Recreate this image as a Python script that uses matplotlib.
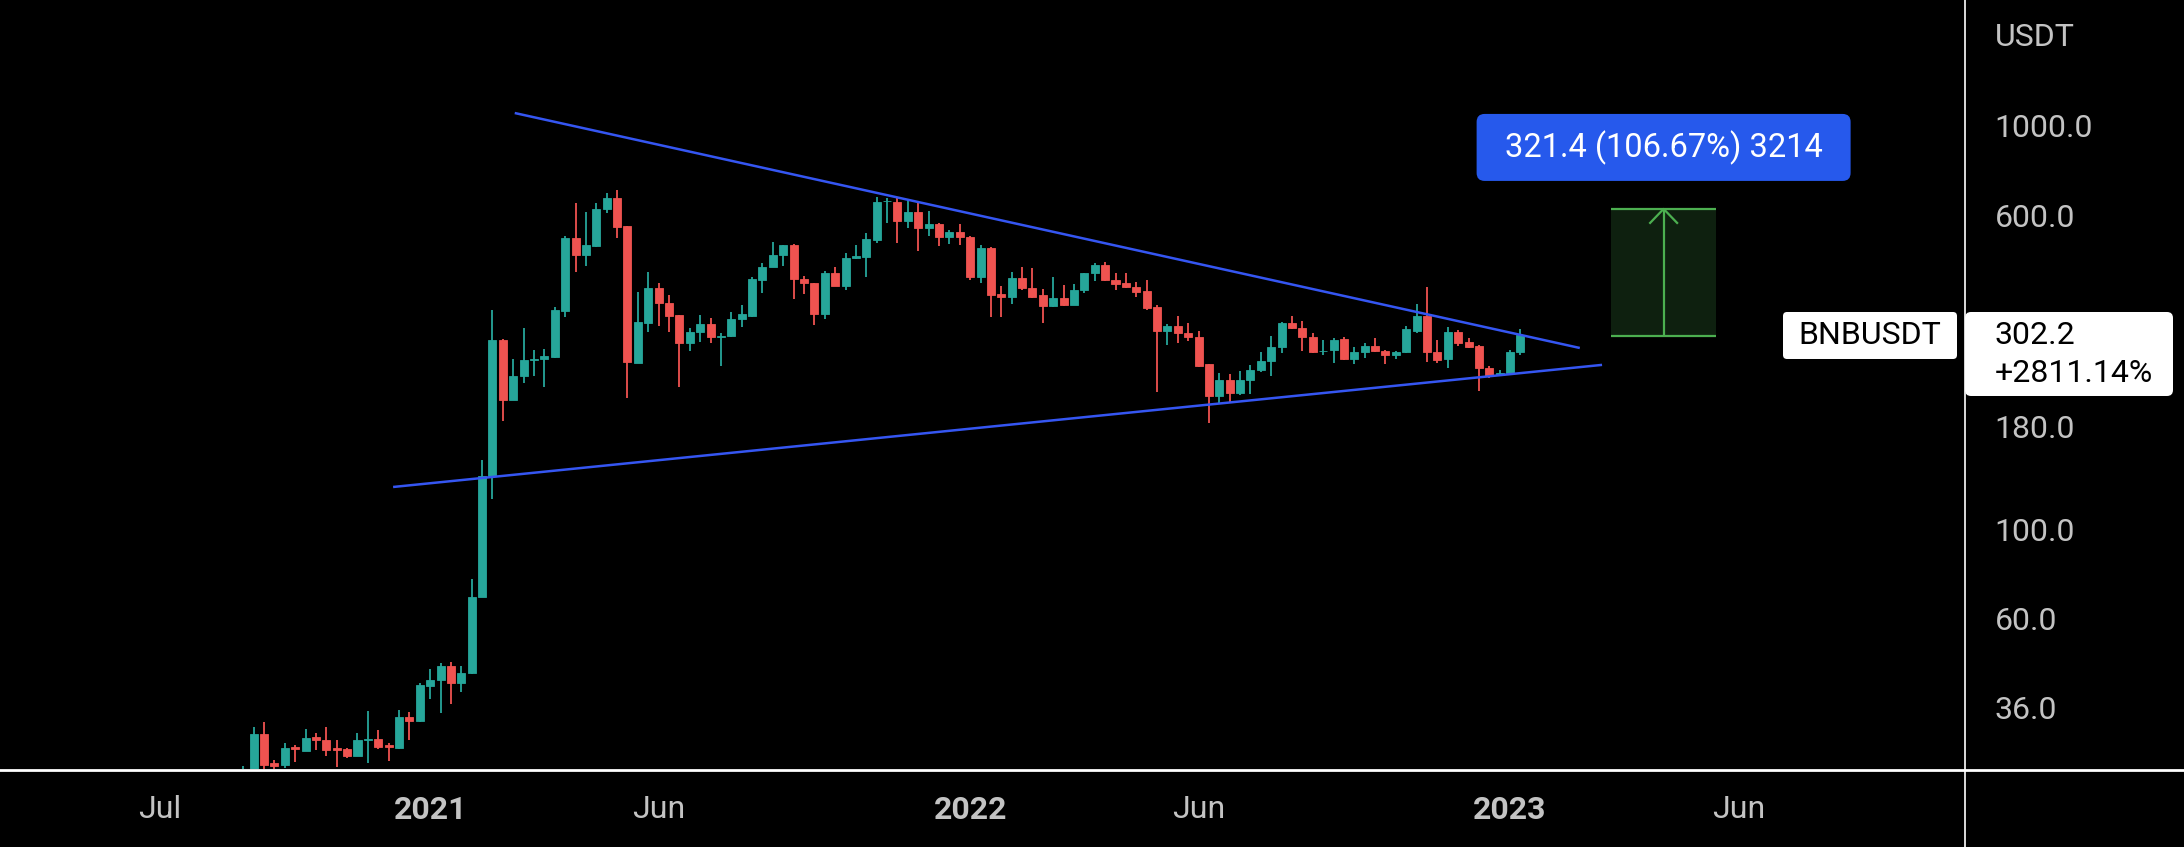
import matplotlib
matplotlib.use('Agg')
import matplotlib.pyplot as plt
import matplotlib.dates as mdates
from matplotlib.patches import Rectangle, FancyBboxPatch
from matplotlib.lines import Line2D
from matplotlib.transforms import IdentityTransform
import numpy as np
import pandas as pd

plt.rcParams['font.family'] = ['Roboto', 'DejaVu Sans']

# ---------------- data (weekly BNB/USDT) ----------------
first_week = '2020-08-31'
opens = [23.0, 24.7, 31.0, 26.3, 26.0, 28.8, 28.2, 30.5, 30.0, 28.6,
         28.4, 27.4, 30.0, 30.1, 29.2, 28.7, 34.2, 33.5, 40.8, 42.2,
         45.7, 41.6, 43.9, 68.0, 135.1, 294.6, 209.2, 239.5, 262.8, 264,
         266.9, 348.2, 527, 478.6, 504, 621, 661.6, 564.9, 258.8, 325,
         395.9, 364.5, 339, 290, 309, 322.8, 300, 302, 331.5, 338,
         415, 448, 478.6, 506.9, 416.6, 408.5, 341.8, 432, 401, 469.7,
         474, 520, 650, 648.9, 582, 610.9, 557.5, 571.4, 529.7, 546.8,
         529.7, 422.9, 497.3, 382.8, 375.8, 419, 397, 380.9, 357.5, 373.7,
         359.7, 392, 431, 451.9, 415, 407, 398, 390, 355, 310.7,
         319.1, 306, 299.1, 256.9, 213.9, 234.5, 217.9, 234.5, 248, 261.7,
         283, 324, 315, 300.2, 276, 277.5, 296, 263.8, 275.5, 284.6,
         277, 270.4, 275.5, 310.7, 337.8, 275.5, 263.8, 309, 291.7, 284.6,
         250.6, 241, 244.5, 275]
highs = [25.9, 32.2, 33.3, 26.8, 29.4, 29.1, 31.9, 31.2, 32.2, 29.9,
         28.7, 31.2, 35.4, 31.8, 29.4, 35.6, 35.2, 41.5, 44.9, 46.6,
         46.9, 45.7, 75.1, 148.5, 349.6, 296, 263.8, 314.9, 278.2, 280,
         356.3, 532.7, 643, 613, 645.4, 680.8, 694, 565, 388.2, 435.1,
         408.6, 380.9, 339, 315, 339.8, 333.4, 307.2, 346.3, 359.7, 421.4,
         458.1, 516.5, 507, 510, 424.6, 409, 436, 447.7, 483.3, 506.9,
         541.9, 667.8, 661.6, 661.6, 655.5, 648.9, 616.6, 573, 552, 571.4,
         532, 506.9, 500, 400.9, 434.5, 446.1, 443.6, 393.6, 422.8, 403.3,
         405.6, 432.6, 458.1, 460.5, 431.1, 432.6, 411, 415, 359.7, 322.8,
         337.8, 324, 310.7, 257, 244.4, 242, 247.2, 255.4, 275.5, 301.4,
         326.9, 337.8, 328.8, 307.2, 294.7, 297.7, 299, 283.5, 289, 297.7,
         278, 276, 319.1, 361.6, 399.4, 294.7, 317, 311, 297.7, 286,
         253.9, 248.2, 278.2, 313.1]
lows = [22.0, 24.0, 24.5, 25.4, 25.6, 26.5, 28.1, 28.3, 27.4, 25.7,
        27.0, 27.3, 26.3, 28.4, 26.6, 28.4, 29.9, 33.3, 37.8, 35.0,
        36.8, 39.5, 43.7, 67.8, 118.6, 185.8, 209, 230.0, 240, 225.6,
        265, 336.4, 434.5, 449.4, 500, 607.4, 527, 211.1, 258, 308.9,
        319.1, 308.9, 225.6, 277.1, 291.7, 290, 253.9, 299, 317.8, 335,
        385.9, 447, 449.4, 371.8, 383.1, 320.9, 331.5, 400, 392, 468,
        422.9, 513.4, 575.5, 511.7, 557.5, 490.5, 533.7, 504, 509.6, 506.9,
        415, 407.2, 336.4, 336.4, 361.6, 392, 373.7, 324, 355, 357.5,
        359, 386, 413.4, 413, 392, 396, 375.8, 349.6, 219.3, 286.3,
        290.1, 293.4, 252, 183.0, 205.9, 205.9, 215, 216.4, 246, 240,
        274, 313, 277.1, 274, 270.4, 258.8, 263, 256.9, 265, 275.5,
        256.9, 263.8, 273, 307, 260.2, 258.8, 250.6, 284.6, 281, 220.5,
        236.6, 240, 241.6, 270.4]
closes = [24.7, 31.0, 26.0, 25.8, 28.7, 28.4, 30.4, 29.9, 28.3, 28.3,
          27.4, 30.0, 30.1, 28.8, 28.8, 34.1, 33.5, 41.0, 42.3, 45.7,
          41.6, 44.0, 68.0, 135.6, 294.6, 209.2, 239.9, 262.8, 264, 268.8,
          349.6, 526.9, 478.6, 506.9, 621.5, 661.6, 562.6, 260.2, 326.9, 395.9,
          364.5, 337.8, 290.1, 309, 322.8, 300.2, 302, 331.5, 341.8, 416.6,
          447.7, 478.6, 506.9, 416.6, 407.2, 341.8, 432.6, 400.9, 469.7, 475.9,
          523.6, 648.9, 652, 582.2, 610.9, 557.5, 571.4, 529.7, 546.8, 529.7,
          422.9, 497.3, 380.9, 375.8, 419.1, 395.9, 377.4, 357.5, 373.7, 359.7,
          392, 431.1, 451.9, 415, 405.6, 398, 388.2, 352.9, 310.7, 319.1,
          306.1, 299.1, 253.9, 213.9, 234.5, 217.9, 234.5, 248.2, 261.7, 283.5,
          324.1, 314.9, 300.2, 275.5, 277, 294.7, 263.8, 275.5, 284.6, 277.1,
          270.4, 275.5, 313.1, 337.8, 275.5, 262.8, 309, 290.1, 283.5, 250.6,
          240, 244.5, 275.5, 302.2]

x_tick_dates = ['2020-07-06', '2021-01-04', '2021-06-07', '2022-01-03',
                '2022-06-06', '2023-01-02', '2023-06-05']
x_tick_labels = ['Jul', '2021', 'Jun', '2022', 'Jun', '2023', 'Jun']
x_tick_bold = [False, True, False, True, False, True, False]
y_ticks = [36, 60, 100, 180, 600, 1000]
y_unit = 'USDT'

upper_line_dates = ['2021-03-02', '2023-02-18']
upper_line_prices = [1077, 281.4]
lower_line_dates = ['2020-12-10', '2023-03-05']
lower_line_prices = [127.2, 255.5]

measure_dates = ['2023-03-11', '2023-05-21']
measure_prices = [301.3, 622.7]
measure_text = '321.4 (106.67%) 3214'

symbol = 'BNBUSDT'
change_text = '+2811.14%'

# ---------------- styling ----------------
W, H = 2184, 847
BG = '#000000'
UP = '#26a69a'
DOWN = '#ef5350'
LINE_BLUE = '#3556f2'
LABEL = '#c3c3c3'

fig = plt.figure(figsize=(W / 100, H / 100), dpi=100, facecolor=BG)
ax_right, ax_bottom_px = 1964, 769
ax = fig.add_axes([0, (H - ax_bottom_px) / H, ax_right / W, ax_bottom_px / H])
ax.set_facecolor(BG)
ax.set_yscale('log')

dates = pd.date_range(first_week, periods=len(opens), freq='7D')
xd = mdates.date2num(dates)
o = np.array(opens); c = np.array(closes)
hi = np.array(highs); lo = np.array(lows)
up = c >= o
cols = np.where(up, UP, DOWN)

ax.vlines(xd, lo, hi, colors=cols, linewidth=1.3, zorder=2)
body_bottom = np.minimum(o, c)
body_h = np.abs(c - o)
ax.bar(xd, body_h, bottom=body_bottom, width=5.4, color=cols,
       edgecolor=cols, linewidth=0.6, zorder=3)

# trend lines
ax.plot(mdates.date2num(pd.to_datetime(upper_line_dates)), upper_line_prices,
        color=LINE_BLUE, lw=1.8, zorder=4, solid_capstyle='butt')
ax.plot(mdates.date2num(pd.to_datetime(lower_line_dates)), lower_line_prices,
        color=LINE_BLUE, lw=1.8, zorder=4, solid_capstyle='butt')

# measure rectangle
mx = mdates.date2num(pd.to_datetime(measure_dates))
ax.add_patch(Rectangle((mx[0], measure_prices[0]), mx[1] - mx[0],
                       measure_prices[1] - measure_prices[0],
                       facecolor='#0e200f', edgecolor='none', zorder=1))
ax.hlines(measure_prices, mx[0], mx[1], colors='#4caf50', lw=1.6, zorder=2)
mcx = (mx[0] + mx[1]) / 2
ax.vlines(mcx, measure_prices[0], measure_prices[1], colors='#4caf50', lw=1.6, zorder=2)

ax.set_xlim(mdates.date2num(pd.Timestamp('2020-03-20')),
            mdates.date2num(pd.Timestamp('2023-11-04')))
ylo = 10 ** ((1335.3 - 769) / 403.1)
yhi = 10 ** (1335.3 / 403.1)
ax.set_ylim(ylo, yhi)

for s in ax.spines.values():
    s.set_visible(False)

ax.set_xticks(mdates.date2num(pd.to_datetime(x_tick_dates)))
ax.set_xticklabels(x_tick_labels)
for lab, b in zip(ax.get_xticklabels(), x_tick_bold):
    lab.set_fontweight('bold' if b else 'normal')
ax.tick_params(axis='x', length=0, pad=19, labelsize=23, labelcolor=LABEL)

ax.yaxis.tick_right()
ax.yaxis.set_minor_locator(matplotlib.ticker.NullLocator())
ax.set_yticks(y_ticks)
ax.set_yticklabels([f'{v:.1f}' for v in y_ticks])
ax.tick_params(axis='y', length=0, pad=22, labelsize=23, labelcolor=LABEL)
ax.yaxis.set_minor_formatter(matplotlib.ticker.NullFormatter())

fig.text(1995 / W, 1 - 37 / H, y_unit, color=LABEL, fontsize=23, va='center', ha='left')

# frame lines
fig.add_artist(Line2D([0, 1], [(H - 770) / H] * 2, transform=fig.transFigure,
                      color='white', lw=2.0))
fig.add_artist(Line2D([1965 / W] * 2, [0, 1], transform=fig.transFigure,
                      color='white', lw=1.2))

# ---- pixel-space annotations ----
def to_px(xv, yv):
    return ax.transData.transform((xv, yv))

last_price = closes[-1]
_, py = to_px(xd[-1], last_price)

# symbol label
sym = FancyBboxPatch((1783, py - 23.5), 174, 47, boxstyle='round,pad=0,rounding_size=4',
                     transform=IdentityTransform(), facecolor='white', edgecolor='none')
fig.add_artist(sym)
fig.text(1870 / W, py / H, symbol, color='black', fontsize=23, ha='center', va='center')

# price label
pbox = FancyBboxPatch((1965, py - 60.5), 208, 84, boxstyle='round,pad=0,rounding_size=6',
                      transform=IdentityTransform(), facecolor='white', edgecolor='none')
fig.add_artist(pbox)
fig.text(1995 / W, py / H, f'{last_price:.1f}', color='black', fontsize=23, ha='left', va='center')
fig.text(1995 / W, (py - 38.5) / H, change_text, color='black', fontsize=23, ha='left', va='center')

# arrow head on measure
tx, ty = to_px(mcx, measure_prices[1])
fig.add_artist(Line2D([tx - 13.5, tx, tx + 13.5], [ty - 14, ty, ty - 14],
                      transform=IdentityTransform(), color='#4caf50', lw=1.6))

# measure label box
bw, bh = 374, 67
bbox = FancyBboxPatch((tx - bw / 2, ty + 28), bw, bh, boxstyle='round,pad=0,rounding_size=8',
                      transform=IdentityTransform(), facecolor='#2659ec', edgecolor='none')
fig.add_artist(bbox)
fig.text(tx / W, (ty + 28 + bh / 2) / H, measure_text, color='white', fontsize=23.5,
         ha='center', va='center')

fig.savefig('out.png', dpi=100, facecolor=BG)
